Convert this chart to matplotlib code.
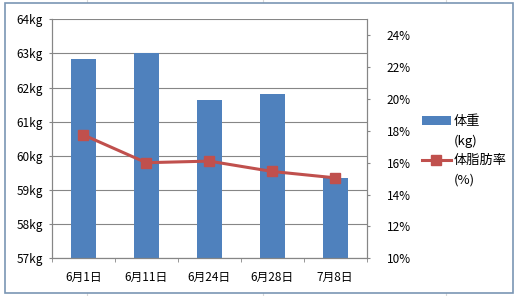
import matplotlib
matplotlib.use("Agg")
import matplotlib.pyplot as plt
from matplotlib.patches import Rectangle
from matplotlib.lines import Line2D
import numpy as np

plt.rcParams['font.family'] = ['Noto Sans CJK JP', 'DejaVu Sans']

dates = ['6月1日', '6月11日', '6月24日', '6月28日', '7月8日']
weight = [62.85, 63.0, 61.65, 61.8, 59.35]
fat = [17.75, 16.0, 16.1, 15.45, 15.05]

bar_color = '#4F81BD'
line_color = '#C0504D'
grid_color = '#868686'

fig = plt.figure(figsize=(5.18, 2.96), dpi=100)

# spreadsheet cell lines behind the chart
for xx in [87, 263, 446]:
    fig.add_artist(Line2D([xx / 518, xx / 518], [0, 1], color='#d9d9d9', lw=0.8, zorder=-3))
# outer chart border
fig.add_artist(Rectangle((5 / 518, 3 / 296), 508 / 518, 290 / 296, facecolor='white',
                         edgecolor='#7a96b4', lw=1.2, zorder=-2))

ax = fig.add_axes([51.7 / 518, 1 - 258.3 / 296, 315 / 518, 239 / 296])
ax.patch.set_alpha(0)
x = np.arange(len(dates))
bars = ax.bar(x, weight, width=0.4, color=bar_color, zorder=2)
ax.set_ylim(57, 64)
ax.set_xlim(-0.5, len(dates) - 0.5)
ax.set_yticks(np.arange(57, 65, 1))
ax.set_yticklabels(['%dkg' % v for v in range(57, 65)])
ax.grid(axis='y', color=grid_color, lw=0.8, zorder=0)
ax.set_xticks(x)
ax.set_xticklabels(dates)
ax.set_xticks(np.arange(-0.5, len(dates), 1), minor=True)
ax.tick_params(axis='x', which='major', length=0, pad=9)
ax.tick_params(axis='x', which='minor', length=3, color=grid_color, direction='out')
ax.tick_params(axis='y', length=2.5, color=grid_color, pad=4)
ax.tick_params(labelsize=8.5)
for s in ax.spines.values():
    s.set_color(grid_color)
ax.spines['top'].set_visible(False)

ax2 = ax.twinx()
line, = ax2.plot(x, fat, color=line_color, lw=2.2, marker='s', markersize=7, zorder=3)
ax2.set_ylim(10, 25)
ax2.set_yticks(np.arange(10, 25, 2))
ax2.set_yticklabels(['%d%%' % v for v in range(10, 25, 2)])
ax2.tick_params(axis='y', length=2.5, color=grid_color, labelsize=8.5, pad=12)
for s in ax2.spines.values():
    s.set_color(grid_color)
ax2.spines['top'].set_visible(False)

blank = Line2D([], [], alpha=0)
leg = fig.legend([bars, blank, line, blank], ['体重', '(kg)', '体脂肪率', '(%)'],
                 loc='center left', bbox_to_anchor=(410 / 518, 0.49),
                 frameon=False, fontsize=9.5, handlelength=2.2, handletextpad=0.2,
                 labelspacing=0.5)

fig.savefig('out.png', dpi=100)
